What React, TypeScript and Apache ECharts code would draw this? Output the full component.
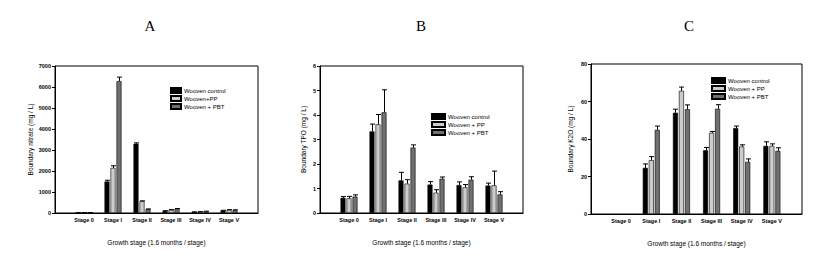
import React, { useEffect, useRef } from "react";
import * as echarts from "echarts";

const stages = ["Stage 0", "Stage I", "Stage II", "Stage III", "Stage IV", "Stage V"];

// Panel A: Boundary nitrate (mg / L)
const nitrateControl = [12, 1500, 3300, 100, 50, 120];
const nitrateControlErr = [4, 60, 40, 10, 5, 10];
const nitratePP = [12, 2150, 560, 150, 60, 150];
const nitratePPErr = [4, 100, 20, 10, 5, 10];
const nitratePBT = [12, 6280, 180, 200, 80, 140];
const nitratePBTErr = [4, 190, 15, 15, 5, 10];

// Panel B: Boundary TPO (mg / L)
const tpoControl = [0.62, 3.33, 1.33, 1.16, 1.14, 1.12];
const tpoControlErr = [0.05, 0.3, 0.33, 0.12, 0.13, 0.1];
const tpoPP = [0.6, 3.62, 1.2, 0.83, 1.05, 1.13];
const tpoPPErr = [0.08, 0.4, 0.16, 0.12, 0.11, 0.58];
const tpoPBT = [0.67, 4.11, 2.67, 1.4, 1.36, 0.76];
const tpoPBTErr = [0.07, 0.92, 0.11, 0.07, 0.12, 0.11];

// Panel C: Boundary K2O (mg / L)
const k2oControl = [null, 24.6, 54.0, 34.0, 45.8, 36.3];
const k2oControlErr = [null, 2.1, 1.9, 1.5, 1.1, 2.2];
const k2oPP = [null, 28.7, 65.7, 43.3, 36.0, 36.3];
const k2oPPErr = [null, 1.9, 2.0, 0.7, 0.9, 1.1];
const k2oPBT = [null, 44.9, 55.9, 56.1, 27.8, 33.7];
const k2oPBTErr = [null, 2.0, 2.3, 2.2, 1.6, 1.6];

const legendA = ["Wooven control", "Wooven+PP", "Wooven + PBT"];
const legendBC = ["Wooven control", "Wooven + PP", "Wooven + PBT"];

const panelTitles = ["A", "B", "C"];
const yNames = ["Boundary nitrate (mg / L)", "Boundary TPO (mg / L)", "Boundary K2O (mg / L)"];
const xName = "Growth stage (1.6 months / stage)";
const yMax = [7000, 6, 80];
const yInterval = [1000, 1, 20];

const FONT = "Liberation Sans";
const COLORS = ["#000000", "#cccccc", "#707070"];

export default function App() {
  const ref = useRef<HTMLDivElement>(null);

  useEffect(() => {
    document.body.style.margin = "0";
    if (!ref.current) return;
    const chart = echarts.init(ref.current, undefined, { renderer: "svg" });

    const cats = ["", ...stages, ""];
    const pad = (arr: (number | null)[]) => [null, ...arr, null];

    const grids = [
      { left: 55, top: 66, width: 203, height: 147 },
      { left: 320, top: 66, width: 203, height: 147 },
      { left: 591, top: 64, width: 211, height: 150 },
    ];
    const yNameGaps = [21.5, 13.5, 17.5];

    const panels = [
      { names: legendA, vals: [nitrateControl, nitratePP, nitratePBT], errs: [nitrateControlErr, nitratePPErr, nitratePBTErr] },
      { names: legendBC, vals: [tpoControl, tpoPP, tpoPBT], errs: [tpoControlErr, tpoPPErr, tpoPBTErr] },
      { names: legendBC, vals: [k2oControl, k2oPP, k2oPBT], errs: [k2oControlErr, k2oPPErr, k2oPBTErr] },
    ];

    const series: any[] = [];
    panels.forEach((p, pi) => {
      p.vals.forEach((vals, k) => {
        series.push({
          type: "bar",
          name: p.names[k],
          xAxisIndex: pi,
          yAxisIndex: pi,
          data: pad(vals),
          barWidth: 5,
          barGap: "20%",
          itemStyle: { color: COLORS[k], borderColor: "#000", borderWidth: 0.6 },
          emphasis: { disabled: true },
        });
      });
      p.vals.forEach((vals, k) => {
        const off = (k - 1) * 6;
        const data: any[] = [];
        vals.forEach((v, i) => {
          const e = p.errs[k][i];
          if (v != null && e != null) data.push([i + 1, v, e]);
        });
        series.push({
          type: "custom",
          name: "err" + pi + "_" + k,
          xAxisIndex: pi,
          yAxisIndex: pi,
          z: 5,
          data,
          renderItem: (params: any, api: any) => {
            const x = api.value(0);
            const v = api.value(1);
            const e = api.value(2);
            const p0 = api.coord([x, v]);
            const p1 = api.coord([x, v + e]);
            const cx = Math.round(p0[0] + off) + 0.5;
            return {
              type: "group",
              children: [
                { type: "line", shape: { x1: cx, y1: p0[1], x2: cx, y2: p1[1] }, style: { stroke: "#000", lineWidth: 1 } },
                { type: "line", shape: { x1: cx - 2.5, y1: p1[1], x2: cx + 2.5, y2: p1[1] }, style: { stroke: "#000", lineWidth: 1 } },
              ],
            };
          },
        });
      });
    });

    const legendPos = [
      { left: 170, top: 87, itemWidth: 10 },
      { left: 431, top: 113, itemWidth: 13 },
      { left: 711, top: 77, itemWidth: 13 },
    ];

    const option: any = {
      animation: false,
      grid: grids.map((g) => ({ ...g, show: true, borderColor: "#000", borderWidth: 1, backgroundColor: "transparent", containLabel: false })),
      xAxis: grids.map((_, i) => ({
        type: "category",
        gridIndex: i,
        data: cats,
        boundaryGap: false,
        name: xName,
        nameLocation: "middle",
        nameGap: 26,
        nameTextStyle: { fontFamily: FONT, fontSize: 6.5, color: "#000" },
        axisLine: { lineStyle: { color: "#000", width: 1 } },
        axisTick: { show: false },
        axisLabel: { interval: 0, fontFamily: FONT, fontSize: 5.5, color: "#000", margin: 4, fontWeight: "bold" },
        splitLine: { show: false },
      })),
      yAxis: grids.map((_, i) => ({
        type: "value",
        gridIndex: i,
        min: 0,
        max: yMax[i],
        interval: yInterval[i],
        name: yNames[i],
        nameLocation: "middle",
        nameGap: yNameGaps[i],
        nameTextStyle: { fontFamily: FONT, fontSize: 6.5, color: "#000" },
        axisLine: { show: true, lineStyle: { color: "#000", width: 1 } },
        axisTick: { show: true, length: 3, lineStyle: { color: "#000" } },
        axisLabel: {
          fontFamily: FONT,
          fontSize: 5.5,
          color: "#000",
          margin: 4,
          fontWeight: "bold",
          formatter: (v: number) => String(v),
        },
        splitLine: { show: false },
      })),
      legend: panels.map((p, i) => ({
        data: p.names,
        orient: "vertical",
        left: legendPos[i].left,
        top: legendPos[i].top,
        itemWidth: legendPos[i].itemWidth,
        itemHeight: 5,
        itemGap: 1,
        icon: "rect",
        padding: 0,
        selectedMode: false,
        textStyle: { fontFamily: FONT, fontSize: 6, color: "#000", padding: [0, 0, 0, -2], lineHeight: 6 },
      })),
      graphic: panelTitles.map((t, i) => ({
        type: "text",
        x: [150, 421, 689][i],
        y: 26,
        style: { text: t, font: '15px "Liberation Serif"', fill: "#000", align: "center", verticalAlign: "middle" },
      })),
      series,
    };

    chart.setOption(option);
    return () => chart.dispose();
  }, []);

  return <div ref={ref} style={{ width: 840, height: 264 }} />;
}
